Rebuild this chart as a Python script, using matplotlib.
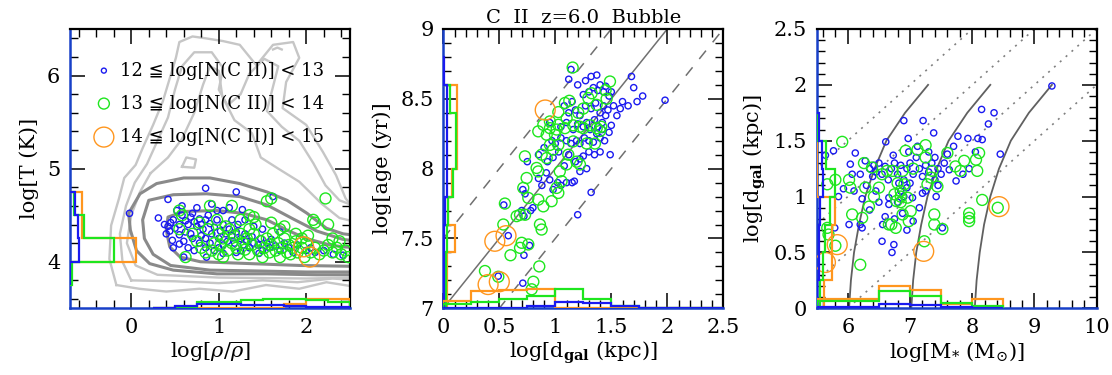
import numpy as np
import matplotlib
matplotlib.use('Agg')
import matplotlib.pyplot as plt
from matplotlib.ticker import MultipleLocator, FuncFormatter

plt.rcParams['font.family'] = ['DejaVu Serif', 'DejaVu Sans']
plt.rcParams['mathtext.fontset'] = 'dejavuserif'

BLUE = '#1a1af0'
GREEN = '#1ee61e'
ORANGE = '#ff961e'
SPINE_BLUE = '#1840c8'

# ---------------- Panel 1 data: log T vs log rho ----------------
p1_blue_x = [-0.02, 0.42, 0.85, 1.20, 1.27, 0.31, 0.38, 0.40, 0.47, 0.55, 0.55, 0.86, 1.05, 1.20, 1.46, 2.31, 2.42, 1.62,
             0.42, 0.45, 0.48, 0.44, 0.50, 0.58, 0.62, 0.65, 0.68, 0.70, 0.72, 0.75, 0.78, 0.80, 0.82, 0.85, 0.88, 0.90,
             0.92, 0.95, 0.98, 1.00, 1.02, 1.05, 1.08, 1.10, 1.12, 1.15, 1.18, 1.20, 1.22, 1.25, 1.28, 1.30, 1.32, 1.35,
             1.38, 1.40, 1.45, 1.48, 1.50, 1.55, 1.58, 1.60, 1.65, 1.70, 1.75, 1.80, 1.85, 1.90, 2.00, 2.05, 2.10, 2.20,
             0.60, 0.65, 0.70, 0.72, 0.78, 0.80, 0.85, 0.90, 0.95, 1.00, 0.62, 0.68, 0.55, 0.52, 0.58, 0.75, 0.92, 1.05,
             1.12, 1.30, 1.40, 1.50, 1.70, 1.25, 1.05, 0.85, 0.48, 0.60, 1.15, 0.98]
p1_blue_y = [4.52, 4.67, 4.79, 4.75, 4.56, 4.47, 4.40, 4.30, 4.23, 4.29, 4.19, 4.05, 4.09, 4.10, 4.09, 4.08, 4.07, 4.70,
             4.38, 4.42, 4.45, 4.33, 4.36, 4.50, 4.44, 4.40, 4.48, 4.52, 4.43, 4.38, 4.46, 4.40, 4.35, 4.45, 4.50, 4.41,
             4.30, 4.37, 4.45, 4.25, 4.33, 4.40, 4.30, 4.22, 4.35, 4.28, 4.20, 4.32, 4.40, 4.25, 4.18, 4.30, 4.22, 4.15,
             4.27, 4.20, 4.18, 4.25, 4.12, 4.20, 4.15, 4.24, 4.17, 4.12, 4.20, 4.15, 4.10, 4.18, 4.12, 4.15, 4.10, 4.12,
             4.22, 4.15, 4.25, 4.12, 4.20, 4.28, 4.15, 4.20, 4.12, 4.15, 4.32, 4.30, 4.40, 4.55, 4.60, 4.58, 4.62, 4.55,
             4.58, 4.45, 4.38, 4.35, 4.32, 4.12, 4.18, 4.25, 4.15, 4.05, 4.45, 4.55]
p1_green_x = [0.55, 0.58, 0.55, 0.62, 0.90, 1.15, 1.35, 1.40, 1.55, 1.60, 2.22, 2.08, 2.10, 2.25,
              0.80, 0.85, 0.95, 1.00, 1.02, 1.05, 1.10, 1.12, 1.15, 1.18, 1.20, 1.22, 1.25, 1.28, 1.30, 1.32, 1.35,
              1.38, 1.40, 1.45, 1.48, 1.50, 1.52, 1.55, 1.58, 1.60, 1.62, 1.65, 1.68, 1.70, 1.72, 1.75, 1.78, 1.80,
              1.82, 1.85, 1.88, 1.90, 1.95, 1.98, 2.00, 2.05, 2.10, 2.15, 2.20, 2.25, 2.30, 2.35, 2.40, 2.45, 2.48,
              0.70, 0.75, 0.88, 0.92, 1.00, 1.08, 1.42, 1.25, 0.98, 1.70, 1.88, 2.02, 1.05, 1.35, 0.78, 1.60, 1.75,
              1.95, 2.38, 2.30]
p1_green_y = [4.55, 4.50, 4.35, 4.05, 4.60, 4.60, 4.50, 4.48, 4.65, 4.68, 4.68, 4.45, 4.42, 4.40,
              4.15, 4.10, 4.20, 4.30, 4.18, 4.25, 4.12, 4.35, 4.20, 4.28, 4.15, 4.08, 4.30, 4.20, 4.13, 4.25, 4.08,
              4.18, 4.30, 4.12, 4.22, 4.05, 4.15, 4.25, 4.10, 4.18, 4.30, 4.12, 4.20, 4.05, 4.15, 4.25, 4.10, 4.18,
              4.08, 4.15, 4.22, 4.10, 4.15, 4.05, 4.20, 4.10, 4.15, 4.08, 4.12, 4.18, 4.10, 4.15, 4.08, 4.12, 4.05,
              4.30, 4.22, 4.35, 4.12, 4.08, 4.38, 4.40, 4.45, 4.45, 4.35, 4.30, 4.28, 4.05, 4.35, 4.42, 4.42, 4.38,
              4.25, 4.22, 4.25]
p1_orange_x = [1.97, 2.04]
p1_orange_y = [4.16, 4.05]

# contour paths (gas distribution)
p1_light1_x = [-0.17, -0.25, -0.23, -0.14, -0.08, 0.05, 0.13, 0.25, 0.36, 0.44, 0.51, 0.55, 0.70, 0.85, 1.05, 1.24, 1.43,
               1.62, 1.85, 1.92, 1.77, 1.73, 2.00, 2.19, 2.34, 2.45, 2.60, 2.60, 2.50, 2.23, 1.92, 1.54, 1.16, 0.78,
               0.40, 0.09, -0.17]
p1_light1_y = [3.75, 4.03, 4.39, 4.68, 4.90, 5.04, 5.22, 5.47, 5.72, 5.97, 6.19, 6.36, 6.42, 6.40, 6.37, 6.33, 6.11,
               6.33, 6.36, 6.19, 5.93, 5.65, 5.47, 5.18, 4.93, 4.68, 4.50, 3.76, 3.74, 3.78, 3.71, 3.75, 3.68, 3.71,
               3.68, 3.71, 3.75]
p1_light2_x = [0.00, -0.10, -0.13, -0.06, 0.04, 0.18, 0.30, 0.42, 0.50, 0.58, 0.72, 0.92, 1.05, 1.00, 1.10, 1.25, 1.35,
               1.52, 1.68, 1.62, 1.55, 1.72, 1.92, 2.08, 2.22, 2.38, 2.60, 2.60, 2.30, 1.90, 1.50, 1.00, 0.50, 0.00]
p1_light2_y = [3.80, 4.00, 4.30, 4.60, 4.85, 5.05, 5.30, 5.55, 5.85, 6.10, 6.25, 6.25, 6.08, 5.85, 5.68, 5.80, 6.02,
               6.18, 6.10, 5.88, 5.62, 5.45, 5.30, 5.06, 4.82, 4.66, 4.58, 3.80, 3.82, 3.78, 3.80, 3.77, 3.79, 3.80]
p1_light3_x = [0.22, 0.42, 0.58, 0.72, 0.82, 0.90, 1.00, 1.04, 1.18, 1.38, 1.48, 1.68, 1.92, 2.18, 2.38, 2.60, 2.60,
               2.00, 1.00, 0.30, 0.05, -0.05, 0.00, 0.10, 0.22]
p1_light3_y = [4.95, 5.12, 5.32, 5.60, 5.90, 6.10, 6.05, 5.78, 5.52, 5.38, 5.12, 5.00, 4.86, 4.62, 4.47, 4.42, 3.83,
               3.82, 3.83, 3.86, 3.96, 4.20, 4.50, 4.75, 4.95]
p1_light4_x = [0.58, 0.63, 0.74, 0.72, 0.58]
p1_light4_y = [5.02, 5.12, 5.10, 5.01, 5.02]
p1_light5_x = [1.62, 1.67, 1.72]
p1_light5_y = [6.28, 6.30, 6.28]

p1_dark1_x = [2.60, 2.42, 2.23, 2.01, 1.78, 1.55, 1.24, 0.90, 0.60, 0.29, 0.10, -0.03, -0.01, 0.06, 0.21, 0.48, 0.98,
              1.55, 2.12, 2.60]
p1_dark1_y = [4.28, 4.30, 4.36, 4.52, 4.66, 4.75, 4.84, 4.90, 4.90, 4.84, 4.73, 4.52, 4.34, 4.12, 3.98, 3.91, 3.87,
              3.87, 3.86, 3.86]
p1_dark2_x = [2.60, 2.42, 2.12, 1.85, 1.55, 1.24, 0.86, 0.48, 0.20, 0.13, 0.15, 0.25, 0.45, 0.90, 1.50, 2.00, 2.60]
p1_dark2_y = [4.22, 4.24, 4.33, 4.46, 4.61, 4.70, 4.73, 4.72, 4.66, 4.45, 4.25, 4.08, 3.96, 3.91, 3.90, 3.89, 3.89]
p1_dark3_x = [2.60, 2.42, 2.27, 2.00, 1.78, 1.55, 1.28, 0.98, 0.60, 0.42, 0.40, 0.44, 0.56, 0.79, 1.36, 1.93, 2.60]
p1_dark3_y = [4.15, 4.16, 4.18, 4.25, 4.34, 4.45, 4.52, 4.55, 4.54, 4.48, 4.34, 4.16, 4.05, 4.00, 3.98, 3.96, 3.95]

# histograms (offsets from the axis edge)
p1_left_edges = [3.75, 4.0, 4.25, 4.5, 4.75]
p1_left_orange = [0.0, 0.754, 0.137, 0.137]
p1_left_green = [0.02, 0.506, 0.164, 0.04]
p1_left_blue = [0.0, 0.106, 0.09, 0.06]
p1_bot_edges = [0.25, 0.5, 0.75, 1.0, 1.25, 1.5, 1.75, 2.0, 2.25, 2.5]
p1_bot_orange = [0.0, 0.0, 0.0, 0.0, 0.0, 0.0, 0.05, 0.104, 0.095]
p1_bot_green = [0.005, 0.01, 0.068, 0.068, 0.094, 0.10, 0.10, 0.09, 0.068]
p1_bot_blue = [0.0, 0.025, 0.045, 0.045, 0.035, 0.035, 0.02, 0.015, 0.01]

# ---------------- Panel 2 data: log age vs log d_gal ----------------
p2_blue_x = [0.49, 0.71, 0.72, 0.77, 0.58, 0.54, 0.75, 1.14, 1.12, 1.98, 1.68, 1.49, 1.32, 1.20, 0.70, 0.72, 0.78, 0.80,
             0.71, 0.73, 0.85, 0.88, 0.92, 0.95, 0.98, 1.02, 1.05, 1.10, 1.15, 1.17, 0.93, 0.98, 1.03, 1.08, 1.12, 1.18,
             1.22, 1.25, 0.97, 1.00, 1.05, 1.10, 1.14, 1.19, 1.22, 1.26, 1.30, 1.34, 1.37, 1.40, 1.16, 1.20, 1.25, 1.28,
             1.31, 1.35, 1.38, 1.42, 1.45, 1.50, 1.48, 1.12, 1.18, 1.22, 1.27, 1.32, 1.36, 1.40, 1.43, 1.47, 1.52, 1.55,
             1.58, 1.25, 1.30, 1.34, 1.38, 1.43, 1.45, 1.48, 1.20, 1.27, 1.32, 1.37, 1.40, 1.60, 1.65, 1.73, 1.78, 1.70,
             1.50, 1.15, 1.08, 0.95, 0.90, 0.85, 1.05, 1.10, 1.40, 1.35, 1.30, 1.44, 1.42, 1.28, 1.22]
p2_blue_y = [7.23, 7.18, 7.38, 7.45, 7.52, 7.74, 8.05, 8.71, 8.64, 8.49, 8.66, 8.10, 7.83, 7.67, 7.70, 7.66, 7.70, 7.72,
             7.85, 7.82, 7.93, 7.88, 7.97, 7.92, 7.85, 7.90, 7.88, 7.90, 7.90, 7.91, 8.05, 8.08, 8.12, 8.02, 8.10, 8.05,
             8.07, 8.09, 8.20, 8.18, 8.22, 8.20, 8.18, 8.20, 8.18, 8.22, 8.20, 8.19, 8.25, 8.22, 8.28, 8.32, 8.30, 8.33,
             8.28, 8.35, 8.30, 8.33, 8.38, 8.31, 8.26, 8.40, 8.42, 8.38, 8.45, 8.43, 8.47, 8.40, 8.45, 8.42, 8.45, 8.38,
             8.43, 8.53, 8.55, 8.58, 8.56, 8.55, 8.59, 8.52, 8.60, 8.63, 8.66, 8.67, 8.60, 8.48, 8.45, 8.48, 8.52, 8.58,
             8.55, 8.48, 8.45, 8.33, 8.15, 8.10, 8.30, 8.33, 8.12, 8.10, 8.12, 8.20, 8.28, 8.00, 7.98]
p2_green_x = [1.155, 1.488, 1.449, 1.458, 1.324, 1.086, 1.125, 1.027, 0.952, 1.012, 0.997, 1.027, 0.923, 1.22, 1.25,
              1.31, 1.37, 1.41, 1.40, 1.354, 1.22, 1.19, 1.116, 1.10, 1.04, 0.98, 0.923, 0.848, 0.833, 0.744, 0.729,
              0.714, 0.759, 0.848, 0.893, 0.967, 1.012, 1.056, 1.027, 0.55, 0.655, 0.685, 0.73, 0.536, 0.863, 0.878,
              0.70, 0.685, 0.759, 0.60, 0.857, 0.372, 0.491, 0.804, 0.789, 0.952, 1.25, 1.205, 1.295, 1.369, 0.952,
              0.893, 0.848, 0.878, 1.027, 1.086, 1.101, 1.16, 1.28, 1.16]
p2_green_y = [8.724, 8.624, 8.562, 8.50, 8.54, 8.47, 8.486, 8.405, 8.29, 8.28, 8.243, 8.314, 8.243, 8.30, 8.29,
              8.31, 8.29, 8.30, 8.27, 8.18, 8.03, 8.05, 8.10, 8.03, 7.98, 8.136, 8.076, 7.98, 8.005, 7.933, 8.088,
              7.862, 7.79, 7.778, 7.73, 7.767, 7.862, 7.91, 7.826, 7.75, 7.66, 7.67, 7.67, 7.60, 7.60, 7.564,
              7.469, 7.433, 7.457, 7.38, 7.30, 7.267, 7.226, 7.19, 7.136, 8.17, 8.43, 8.40, 8.505, 8.457, 8.338,
              8.314, 8.267, 8.10, 8.17, 8.29, 8.36, 8.31, 8.18, 8.195]
p2_orange_x = [0.91, 0.46, 0.56, 0.40, 0.50]
p2_orange_y = [8.42, 7.48, 7.52, 7.17, 7.19]

p2_line_x = [0.0, 2.5]
p2_solid_offset = 7.0
p2_dashed_offsets = [7.5, 6.5]

p2_left_edges = [7.0, 7.2, 7.4, 7.6, 7.8, 8.0, 8.2, 8.4, 8.6, 8.8]
p2_left_orange = [0.03, 0.03, 0.104, 0.045, 0.075, 0.119, 0.119, 0.119, 0.0]
p2_left_green = [0.02, 0.025, 0.03, 0.045, 0.09, 0.113, 0.113, 0.06, 0.0]
p2_left_blue = [0.005, 0.005, 0.005, 0.015, 0.03, 0.03, 0.03, 0.03, 0.008]
p2_bot_edges = [0.0, 0.25, 0.5, 0.75, 1.0, 1.25, 1.5, 1.75, 2.0, 2.25, 2.5]
p2_bot_orange = [0.05, 0.125, 0.13, 0.135, 0.0, 0.0, 0.0, 0.0, 0.0, 0.0]
p2_bot_green = [0.03, 0.045, 0.07, 0.09, 0.135, 0.065, 0.015, 0.005, 0.0, 0.0]
p2_bot_blue = [0.0, 0.0, 0.005, 0.016, 0.048, 0.036, 0.016, 0.005, 0.0, 0.0]

# ---------------- Panel 3 data: log d_gal vs log M* ----------------
p3_blue_x = [9.28, 8.15, 8.35, 8.26, 8.45, 6.90, 7.21, 7.38, 6.97, 7.77, 7.93, 8.09, 8.16, 5.77, 5.64, 6.12, 6.28, 6.04,
             6.42, 6.61, 6.73, 6.07, 6.20, 5.93, 6.23, 6.02, 6.23, 6.56, 6.74, 6.71, 5.79, 7.52, 7.74, 7.63, 7.42, 7.20,
             7.04, 6.66, 6.66, 6.35, 6.40, 6.45, 6.50, 6.55, 6.60, 6.65, 6.70, 6.75, 6.80, 6.85, 6.90, 6.95, 7.00, 7.05,
             7.10, 7.15, 7.20, 7.25, 7.30, 7.35, 7.40, 7.45, 7.50, 6.85, 6.90, 6.95, 7.00, 6.80, 6.75, 6.88, 7.05, 6.60,
             6.45, 6.50, 6.30, 7.30, 7.12, 6.98, 7.40, 7.55, 7.60, 7.85, 7.95, 8.05, 7.70, 6.20, 6.35, 6.55, 6.10, 5.85,
             6.82, 7.25, 7.45, 6.95, 7.15]
p3_blue_y = [1.99, 1.78, 1.75, 1.65, 1.38, 1.68, 1.68, 1.57, 1.52, 1.54, 1.52, 1.52, 1.51, 1.41, 1.37, 1.39, 1.32, 1.29,
             1.28, 1.49, 1.37, 1.20, 1.20, 1.07, 0.98, 0.75, 0.72, 0.75, 0.57, 0.50, 0.72, 0.72, 1.14, 1.24, 1.00, 1.03,
             0.99, 0.99, 0.93, 1.25, 1.18, 1.22, 1.30, 1.20, 1.27, 1.15, 1.25, 1.30, 1.20, 1.28, 1.15, 1.25, 1.30, 1.20,
             1.35, 1.25, 1.18, 1.28, 1.22, 1.30, 1.15, 1.25, 1.20, 1.05, 1.00, 1.08, 1.12, 0.95, 0.80, 0.85, 0.78, 0.82,
             1.05, 0.95, 1.10, 1.40, 1.45, 1.40, 1.35, 1.30, 1.38, 1.20, 1.25, 1.40, 1.45, 0.75, 0.88, 0.60, 1.05, 1.00,
             1.12, 1.05, 1.10, 0.70, 0.90]
p3_green_x = [5.91, 5.67, 5.80, 6.02, 6.04, 6.28, 6.26, 6.39, 6.50, 6.07, 6.23, 6.34, 6.42, 5.67, 5.69, 5.80, 6.20,
              6.66, 6.77, 6.63, 6.72, 6.88, 6.80, 6.91, 6.75, 6.78, 6.96, 7.01, 6.88, 6.98, 6.93, 7.12, 7.25, 7.25,
              7.36, 7.34, 7.28, 7.44, 7.39, 7.39, 7.52, 7.23, 7.60, 7.87, 7.81, 7.73, 8.06, 8.11, 8.08, 8.16, 7.95,
              7.95, 7.95, 8.41, 6.85, 6.85, 6.85, 6.55, 7.05, 6.70]
p3_green_y = [1.49, 1.11, 1.15, 1.15, 1.08, 1.08, 1.30, 1.26, 1.08, 0.84, 0.81, 0.91, 1.00, 0.72, 0.66, 0.56, 0.39,
              0.75, 0.72, 1.23, 1.23, 1.23, 1.12, 1.11, 1.02, 0.96, 0.99, 0.87, 0.84, 0.78, 1.41, 1.42, 1.46, 1.35,
              1.23, 1.17, 1.11, 1.09, 0.84, 0.75, 0.71, 0.60, 1.39, 1.32, 1.23, 1.27, 1.33, 1.39, 1.23, 0.97, 0.85,
              0.81, 0.78, 0.90, 1.05, 1.00, 0.95, 1.20, 1.25, 0.75]
p3_orange_x = [8.43, 7.22, 5.83, 5.64]
p3_orange_y = [0.91, 0.51, 0.57, 0.41]

p3_curve_y = [0.0, 0.25, 0.5, 0.75, 1.0, 1.25, 1.5, 1.75, 2.0]
p3_curve1_x = [6.02, 6.05, 6.10, 6.18, 6.28, 6.43, 6.62, 6.92, 7.29]
p3_curve2_x = [7.02, 7.05, 7.10, 7.18, 7.28, 7.43, 7.62, 7.92, 8.29]
p3_curve3_x = [8.04, 8.07, 8.12, 8.19, 8.29, 8.43, 8.62, 8.91, 9.28]
p3_dot_x = [2.0, 10.0]
p3_dot_offsets = [3.0, 4.0, 5.0, 6.0]
p3_dot_slope = 0.5

p3_left_edges = [0.0, 0.25, 0.5, 0.75, 1.0, 1.25, 1.5, 1.75]
p3_left_orange = [0.11, 0.245, 0.245, 0.30, 0.0, 0.0, 0.0]
p3_left_green = [0.06, 0.10, 0.14, 0.22, 0.29, 0.15, 0.0]
p3_left_blue = [0.01, 0.03, 0.04, 0.06, 0.107, 0.08, 0.04]
p3_bot_edges = [5.5, 6.0, 6.5, 7.0, 7.5, 8.0, 8.5]
p3_bot_orange = [0.08, 0.08, 0.199, 0.164, 0.04, 0.08]
p3_bot_green = [0.065, 0.065, 0.155, 0.11, 0.05, 0.02]
p3_bot_blue = [0.012, 0.012, 0.04, 0.03, 0.012, 0.005]

# ---------------- figure ----------------
fig = plt.figure(figsize=(11.12, 3.75), dpi=100)
W, H = 1112.0, 375.0
bottom = (H - 308.3) / H
height = 279.3 / H
width = 280.0 / W
ax1 = fig.add_axes([70.0 / W, bottom, width, height])
ax2 = fig.add_axes([443.3 / W, bottom, width, height])
ax3 = fig.add_axes([816.7 / W, bottom, width, height])

fmt = FuncFormatter(lambda v, p: '%g' % v)
S_BLUE, S_GREEN, S_ORANGE = 20, 62, 205
TICKFS = 15


def style(ax, xlim, ylim, xmaj, xmin, ymaj, ymin):
    ax.set_xlim(*xlim)
    ax.set_ylim(*ylim)
    ax.xaxis.set_major_locator(MultipleLocator(xmaj))
    ax.xaxis.set_minor_locator(MultipleLocator(xmin))
    ax.yaxis.set_major_locator(MultipleLocator(ymaj))
    ax.yaxis.set_minor_locator(MultipleLocator(ymin))
    ax.xaxis.set_major_formatter(fmt)
    ax.yaxis.set_major_formatter(fmt)
    ax.tick_params(which='both', direction='in', top=True, right=True, color='black')
    ax.tick_params(which='major', length=11, width=1.1, labelsize=TICKFS, pad=7)
    ax.tick_params(which='minor', length=5.5, width=1.0)
    for s in ['top', 'right']:
        ax.spines[s].set_linewidth(1.6)
        ax.spines[s].set_color('black')
    for s in ['left', 'bottom']:
        ax.spines[s].set_linewidth(1.8)
        ax.spines[s].set_color(SPINE_BLUE)


def scat(ax, bx, by, gx, gy, ox, oy):
    ax.scatter(bx, by, s=S_BLUE, facecolors='none', edgecolors=BLUE, linewidths=1.0, zorder=3)
    ax.scatter(gx, gy, s=S_GREEN, facecolors='none', edgecolors=GREEN, linewidths=1.0, zorder=3)
    ax.scatter(ox, oy, s=S_ORANGE, facecolors='none', edgecolors=ORANGE, linewidths=1.0, zorder=3)


def hists(ax, ledges, lo, lg, lb, lbase, bedges, bo, bg, bb, bbase):
    for vals, c in [(lo, ORANGE), (lg, GREEN), (lb, BLUE)]:
        ax.stairs([lbase + v for v in vals], ledges, baseline=lbase, orientation='horizontal',
                  color=c, lw=1.6, zorder=4)
    for vals, c in [(bo, ORANGE), (bg, GREEN), (bb, BLUE)]:
        ax.stairs([bbase + v for v in vals], bedges, baseline=bbase, orientation='vertical',
                  color=c, lw=1.6, zorder=4)


# ----- panel 1 -----
LIGHT = '#c6c6c6'
DARK = '#8a8a8a'
for xs, ys in [(p1_light1_x, p1_light1_y), (p1_light2_x, p1_light2_y), (p1_light3_x, p1_light3_y),
               (p1_light4_x, p1_light4_y), (p1_light5_x, p1_light5_y)]:
    ax1.plot(xs, ys, color=LIGHT, lw=1.7, zorder=1, solid_joinstyle='round')
for xs, ys in [(p1_dark1_x, p1_dark1_y), (p1_dark2_x, p1_dark2_y), (p1_dark3_x, p1_dark3_y)]:
    ax1.plot(xs, ys, color=DARK, lw=2.2, zorder=2, solid_joinstyle='round')
scat(ax1, p1_blue_x, p1_blue_y, p1_green_x, p1_green_y, p1_orange_x, p1_orange_y)
hists(ax1, p1_left_edges, p1_left_orange, p1_left_green, p1_left_blue, -0.7,
      p1_bot_edges, p1_bot_orange, p1_bot_green, p1_bot_blue, 3.5)
style(ax1, (-0.7, 2.5), (3.5, 6.5), 1, 0.2, 1, 0.2)
ax1.set_xlabel(r'log[$\rho/\overline{\rho}$]', fontsize=15, labelpad=2)
ax1.set_ylabel('log[T (K)]', fontsize=15, labelpad=6)

# legend
leg_labels = ['12 \u2266 log[N(C II)] < 13', '13 \u2266 log[N(C II)] < 14', '14 \u2266 log[N(C II)] < 15']
leg_y = [0.851, 0.733, 0.613]
leg_s = [13, 62, 205]
leg_c = [BLUE, GREEN, ORANGE]
for lab, yy, ss, cc in zip(leg_labels, leg_y, leg_s, leg_c):
    ax1.scatter([0.121], [yy], s=ss, facecolors='none', edgecolors=cc, linewidths=1.0,
                transform=ax1.transAxes, zorder=5, clip_on=False)
    ax1.text(0.178, yy, lab, transform=ax1.transAxes, fontsize=13, va='center', ha='left', zorder=5)

# ----- panel 2 -----
ax2.plot(p2_line_x, [x + p2_solid_offset for x in p2_line_x], color='#707070', lw=1.1, zorder=1)
for off in p2_dashed_offsets:
    ax2.plot(p2_line_x, [x + off for x in p2_line_x], color='#707070', lw=1.1, zorder=1,
             linestyle=(0, (7, 7)))
scat(ax2, p2_blue_x, p2_blue_y, p2_green_x, p2_green_y, p2_orange_x, p2_orange_y)
hists(ax2, p2_left_edges, p2_left_orange, p2_left_green, p2_left_blue, 0.0,
      p2_bot_edges, p2_bot_orange, p2_bot_green, p2_bot_blue, 7.0)
style(ax2, (0, 2.5), (7, 9), 0.5, 0.1, 0.5, 0.1)
ax2.set_xlabel(r'log[d$_{\mathbf{gal}}$ (kpc)]', fontsize=15, labelpad=2)
ax2.set_ylabel('log[age (yr)]', fontsize=15, labelpad=6)
ax2.set_title('C  II  z=6.0  Bubble', fontsize=14, pad=4)

# ----- panel 3 -----
for off in p3_dot_offsets:
    ax3.plot(p3_dot_x, [p3_dot_slope * (x - off) for x in p3_dot_x], color='#808080', lw=1.2,
             linestyle=(0, (1.2, 3.5)), zorder=1)
for cx in [p3_curve1_x, p3_curve2_x, p3_curve3_x]:
    ax3.plot(cx, p3_curve_y, color='#606060', lw=1.3, zorder=1)
scat(ax3, p3_blue_x, p3_blue_y, p3_green_x, p3_green_y, p3_orange_x, p3_orange_y)
hists(ax3, p3_left_edges, p3_left_orange, p3_left_green, p3_left_blue, 5.5,
      p3_bot_edges, p3_bot_orange, p3_bot_green, p3_bot_blue, 0.0)
style(ax3, (5.5, 10), (0, 2.5), 1, 0.2, 0.5, 0.1)
ax3.set_xlabel(r'log[M$_{*}$ (M$_{\odot}$)]', fontsize=15, labelpad=2)
ax3.set_ylabel(r'log[d$_{\mathbf{gal}}$ (kpc)]', fontsize=15, labelpad=4)

fig.savefig('out.png', dpi=100)
